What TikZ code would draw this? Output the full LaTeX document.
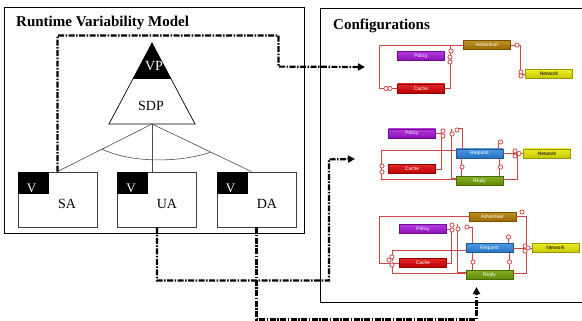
\documentclass[tikz,border=0pt]{standalone}
\usepackage{fontspec}
\setmainfont{Liberation Serif}
\newfontfamily\compfont{Liberation Sans}
\usetikzlibrary{arrows.meta,calc}
\definecolor{wirec}{RGB}{205,70,70}
\definecolor{advc}{RGB}{180,125,0}
\definecolor{polc}{RGB}{165,20,215}
\definecolor{cacc}{RGB}{220,0,0}
\definecolor{netc}{RGB}{232,232,0}
\definecolor{reqc}{RGB}{45,135,225}
\definecolor{repc}{RGB}{110,160,0}
\tikzset{
 frame/.style={draw=black,line width=0.9pt},
 varbox/.style={draw=black!75,line width=0.8pt,minimum width=79pt,minimum height=55pt,inner sep=0pt},
 vtag/.style={fill=black,minimum width=31pt,minimum height=22pt,inner sep=0pt},
 treeline/.style={draw=black!70,line width=0.6pt},
 flowline/.style={line width=2.2pt,dash pattern=on 6pt off 1.5pt on 1.5pt off 1.5pt},
 flow/.style={flowline,-{Triangle[length=7pt,width=7pt]}},
 comp/.style={draw=#1!65!black,top color=#1!85!white,bottom color=#1!85!black,minimum width=47pt,minimum height=9pt,inner sep=0pt,text=white,font=\compfont\fontsize{5}{5}\selectfont,line width=0.4pt},
 wire/.style={draw=wirec,line width=0.8pt},
 port/.style={circle,draw=wirec,fill=white,line width=0.8pt,inner sep=0pt,minimum size=4.2pt},
 lbl/.style={font=\fontsize{14}{14}\selectfont,inner sep=0pt},
 wlbl/.style={lbl,text=white},
 title/.style={font=\bfseries\fontsize{15}{15}\selectfont,inner sep=0pt,anchor=base west},
}
\begin{document}
\begin{tikzpicture}[x=1pt,y=-1pt]
\useasboundingbox (0,0) rectangle (582,321);
% frames
\draw[frame] (4,7) rectangle (304,233);
\draw[frame] (582,8) -- (320,8) -- (320,302) -- (582,302);
\node[title] (t1) at (16,27) {Runtime Variability Model};
\node[title] (t2) at (333,30) {Configurations};
% variation point triangle
\fill[black] (152,43) -- (171.1,79) -- (132.9,79) -- cycle;
\draw[line width=0.7pt] (152,43) -- (195,124) -- (109,124) -- cycle;
\node[wlbl] (vp) at (154,66) {VP};
\node[lbl] (sdpl) at (151,106) {SDP};
\coordinate (sdp) at (152,124);
% variants
\node[varbox] (sa) at (57.5,199.5) {};
\node[varbox] (ua) at (157,199.5) {};
\node[varbox] (da) at (256.5,199.5) {};
\foreach \b in {sa,ua,da}{
  \node[vtag,anchor=north west] (\b v) at (\b.north west) {};
  \node[wlbl,font=\fontsize{13}{13}\selectfont] at ($(\b.north west)+(14,17)$) {V};
}
\node[lbl] (sal) at (67,204) {SA};
\node[lbl] (ual) at (167,204) {UA};
\node[lbl] (dal) at (267,204) {DA};
\draw[treeline] (sdp) -- (sa.north);
\draw[treeline] (sdp) -- (sdp |- ua.north);
\draw[treeline] (sdp) -- ($(da.north)+(-5,0)$);
\draw[treeline] (102,149) .. controls (130,163) and (180,163) .. (211,152);
% flows
\coordinate (in1) at (365,67);
\coordinate (in2) at (355,159);
\coordinate (in3) at (476.5,287);
\draw[flow] (sa.north) -- ++(0,-136) -- ++(221,0) -- ++(0,31) -- (in1);
\draw[flow] (ua.south) -- ++(0,53) -- ++(172,0) -- ++(0,-121) -- (in2);
\draw[flow] (da.south) -- ++(0,92) -- ++(220,0) -- (in3);

% ---------- configuration 1
\node[comp=advc] (adv1) at (487,45) {Advertiser};
\node[comp=polc] (pol1) at (421,56) {Policy};
\node[comp=cacc] (cac1) at (421,88.5) {Cache};
\node[comp=netc,text=black] (net1) at (549,74) {Network};
\draw[wire] (adv1.west) -- ++(-84,0) |- (cac1.west);
\draw[wire] (cac1.east) -- ++(6,0) |- (adv1.west);
\draw[wire] (adv1.east) -- ++(10,0) |- (net1.west);
\foreach \p in {(390,88.5),(386,88.5),(451,51),(450,57),(450,62),(517,45),(521,72),(521,76)}
  \node[port] at \p {};

% ---------- configuration 2
\node[comp=polc] (pol2) at (412,133.5) {Policy};
\node[comp=reqc] (req2) at (479.5,153.5) {Request};
\node[comp=netc,text=black] (net2) at (547,153.5) {Network};
\node[comp=cacc] (cac2) at (412,169) {Cache};
\node[comp=repc] (rep2) at (479.5,181) {Reply};
\draw[wire] ([yshift=3pt]req2.west) -- ++(-74,0) |- ([yshift=2pt]rep2.west);
\draw[wire] (cac2.east) -- ++(6,0) |- (pol2.east);
\draw[wire] ([yshift=3pt]rep2.west) -- ++(-4,0) -- ++(0,-49);
\draw[wire] ([xshift=7pt]req2.north west) -- ++(0,-20) -- ++(-5,0);
\draw[wire] ([xshift=-5pt]req2.north east) -- ++(0,-7);
\draw[wire] (req2.east) -- (net2.west);
\draw[wire] ([yshift=2pt]rep2.east) -- ++(14,0) |- (net2.west);
\draw[wire] ([xshift=6pt]req2.south west) -- ([xshift=6pt]rep2.north west);
\draw[wire] ([xshift=-4pt]req2.south east) -- ([xshift=-4pt]rep2.north east);
\foreach \p in {(382,166),(382,172),(443,131),(443,136),(452,134),(457,130),(500.5,142),(515,151),(515,156),(519,153.5),(462,167),(500.5,167)}
  \node[port] at \p {};

% ---------- configuration 3
\node[comp=advc] (adv3) at (492.5,216.5) {Advertiser};
\node[comp=polc] (pol3) at (423,229) {Policy};
\node[comp=reqc] (req3) at (489.5,248) {Request};
\node[comp=netc,text=black] (net3) at (555.5,248) {Network};
\node[comp=cacc] (cac3) at (423,263) {Cache};
\node[comp=repc] (rep3) at (489.5,275) {Reply};
\draw[wire] (adv3.west) -- ++(-89,0) |- (cac3.west);
\draw[wire] ([yshift=-2pt]req3.west) -- ++(-73,0) -- ++(0,11);
\draw[wire] ([yshift=2pt]rep3.west) -- ++(-73,0) -- ++(0,-11);
\draw[wire] (cac3.east) -- ++(5,0) |- (pol3.east);
\draw[wire] ([yshift=3pt]rep3.west) -- ++(-8,0) -- ++(0,-48);
\draw[wire] ([xshift=7pt]req3.north west) -- ++(0,-16) -- ++(-5,0);
\draw[wire] (adv3.east) -- ++(10,0) |- (net3.west);
\draw[wire] (req3.east) -- (net3.west);
\draw[wire] ([yshift=2pt]rep3.east) -- ++(13,0) |- (net3.west);
\draw[wire] ([xshift=-5pt]req3.north east) -- ++(0,-7);
\draw[wire] ([xshift=7pt]req3.south west) -- ([xshift=7pt]rep3.north west);
\draw[wire] ([xshift=-4pt]req3.south east) -- ([xshift=-4pt]rep3.north east);
\foreach \p in {(389,260),(392,257),(392,265),(452,225),(452,230),(458,229),(467,227),(522,212),(508.5,237),(525,246),(525,251),(528,248),(473,262),(509.5,262)}
  \node[port] at \p {};
\end{tikzpicture}
\end{document}
